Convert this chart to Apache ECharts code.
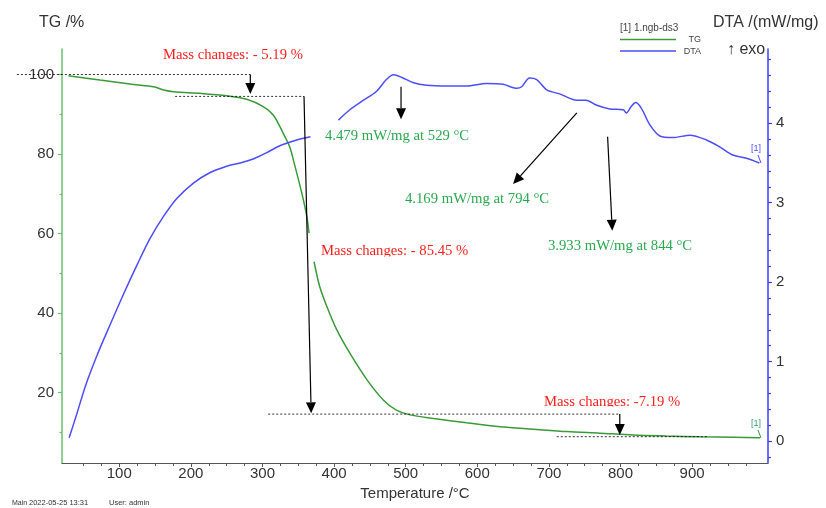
<!DOCTYPE html>
<html>
<head>
<meta charset="utf-8">
<script src="https://cdn.jsdelivr.net/npm/echarts@6/dist/echarts.min.js"></script>
<style>
  html, body { margin: 0; padding: 0; background: #fff; }
  #main { width: 826px; height: 508px; }
</style>
</head>
<body>
<div id="main"></div>
<script>
// TG trace: temperature (°C) and remaining mass (%), '-' = break in the trace
var tgTemp = [29, 73, 120, 148, 162, 176, 213, 250, 278, 301, 315, 329, 338, 345, 355, 362, 365,
  368,
  372, 380, 390, 404, 422, 446, 469, 487, 506, 539, 585, 632, 678, 725, 771, 818, 864, 911, 958, 995];
var tgMass = [99.7, 98.6, 97.5, 96.9, 96.1, 95.65, 95.25, 94.65, 93.75, 91.9, 89.8, 85.2, 81.8, 77.2, 70.1, 64.2, 60.1,
  '-',
  52.9, 46.6, 41.6, 35.7, 29.9, 23.2, 18.1, 15.6, 14.4, 13.5, 12.4, 11.4, 10.8, 10.2, 9.8, 9.35, 9.1, 8.9, 8.75, 8.65];

// DTA trace: temperature (°C) and signal (mW/mg)
var dtaTemp = [30, 41, 53, 69, 87, 106, 125, 143, 162, 180, 204, 227, 250, 269, 287, 306, 325, 348, 367,
  385,
  406, 422, 441, 459, 473, 483, 494, 511, 529, 557, 585, 613, 636, 655, 662, 673, 683, 697, 715, 739, 752,
  766, 785, 804, 808, 815, 821, 829, 841, 855, 873, 897, 920, 939, 957, 976, 994];
var dtaSignal = [0.04, 0.35, 0.70, 1.08, 1.46, 1.85, 2.22, 2.55, 2.83, 3.05, 3.25, 3.38, 3.46, 3.50, 3.55, 3.63, 3.72, 3.79, 3.83,
  '-',
  4.04, 4.17, 4.29, 4.40, 4.55, 4.61, 4.58, 4.51, 4.48, 4.47, 4.47, 4.50, 4.49, 4.44, 4.46, 4.57, 4.55, 4.42, 4.37, 4.29, 4.29,
  4.23, 4.18, 4.17, 4.13, 4.21, 4.26, 4.19, 3.98, 3.84, 3.82, 3.85, 3.79, 3.70, 3.60, 3.56, 3.50];

// axis ticks
var tempTicks = [100, 200, 300, 400, 500, 600, 700, 800, 900];
var tempMinor = [50, 75, 125, 150, 175, 225, 250, 275, 325, 350, 375, 425, 450, 475, 525, 550, 575,
  625, 650, 675, 725, 750, 775, 825, 850, 875, 925, 950, 975];
var tgTicks = [20, 40, 60, 80, 100];
var tgMinor = [10, 30, 50, 70, 90];
var dtaTicks = [0, 1, 2, 3, 4];
var dtaMinor = [-0.2, 0.2, 0.4, 0.6, 0.8, 1.2, 1.4, 1.6, 1.8, 2.2, 2.4, 2.6, 2.8, 3.2, 3.4, 3.6, 3.8, 4.2, 4.4, 4.6, 4.8];

// annotation geometry in data space: [temperature, value]
var tgDotted = [[[-43, 100], [283, 100]], [[178, 94.5], [358, 94.5]], [[308, 14.6], [798, 14.6]], [[711, 8.9], [921, 8.9]]];
var tgArrows = [[[283, 100], [283, 95.1]], [[358, 94.5], [368, 14.8]], [[799, 14.6], [799, 9.35]]];
var dtaArrows = [[[493.5, 4.46], [493.5, 4.05]], [[739, 4.13], [650, 3.235]], [[782, 3.83], [788.5, 2.647]]];

var sans = 'Liberation Sans, Arial, sans-serif';
var serif = 'Liberation Serif, Times New Roman, serif';
var TG_COLOR = '#3a9a3a';
var DTA_COLOR = '#4d4dff';

function pairs(xs, ys) {
  return xs.map(function (x, i) { return [x, ys[i]]; });
}

var myChart = echarts.init(document.getElementById('main'));

function sideAxis(pos, min, max, color, ticks, len, labels) {
  return {
    type: 'value', position: pos, min: min, max: max,
    axisLine: { show: !!labels, onZero: false, lineStyle: { color: color, width: 1.5 } },
    axisTick: { show: true, customValues: ticks, length: len, lineStyle: { color: color, width: 1.2 } },
    axisLabel: labels ? { customValues: ticks, fontSize: 15, color: '#333', margin: 8, fontFamily: sans } : { show: false },
    splitLine: { show: false }
  };
}

myChart.setOption({
  animation: false,
  backgroundColor: '#fff',
  grid: { left: 62, right: 58, top: 49, bottom: 45 },
  xAxis: [{
    type: 'value', min: 20, max: 1006, position: 'bottom',
    name: 'Temperature /°C', nameLocation: 'middle', nameGap: 22,
    nameTextStyle: { fontFamily: sans, fontSize: 15, color: '#333' },
    axisLine: { onZero: false, lineStyle: { color: '#555', width: 1.2 } },
    axisTick: { customValues: tempTicks, length: 4, lineStyle: { color: '#555' } },
    axisLabel: { customValues: tempTicks, fontSize: 15, color: '#333', margin: 3, fontFamily: sans },
    splitLine: { show: false }
  }, {
    type: 'value', min: 20, max: 1006, position: 'bottom',
    axisLine: { show: false, onZero: false },
    axisTick: { customValues: tempMinor, length: 3, lineStyle: { color: '#555' } },
    axisLabel: { show: false },
    splitLine: { show: false }
  }],
  yAxis: [
    sideAxis('left', 2.3, 106.4, '#6cbf6c', tgTicks, 4, true),
    sideAxis('left', 2.3, 106.4, '#6cbf6c', tgMinor, 2.5, false),
    sideAxis('right', -0.277, 4.935, '#3c3cff', dtaTicks, 4, true),
    sideAxis('right', -0.277, 4.935, '#3c3cff', dtaMinor, 3, false)
  ],
  series: [{
    name: 'TG', type: 'line', xAxisIndex: 0, yAxisIndex: 0,
    data: pairs(tgTemp, tgMass), showSymbol: false, symbol: 'none', smooth: 0.3,
    connectNulls: false, lineStyle: { color: TG_COLOR, width: 1.5 }
  }, {
    name: 'DTA', type: 'line', xAxisIndex: 0, yAxisIndex: 2,
    data: pairs(dtaTemp, dtaSignal), showSymbol: false, symbol: 'none', smooth: 0.3,
    connectNulls: false, lineStyle: { color: DTA_COLOR, width: 1.5 }
  }]
});

// annotations drawn on top, placed through the series' own scales
var g = [];
function px(seriesIndex, p) { return myChart.convertToPixel({ seriesIndex: seriesIndex }, p); }
function dotted(a, b) {
  g.push({ type: 'line', z: 50, shape: { x1: a[0], y1: a[1], x2: b[0], y2: b[1] },
    style: { stroke: '#000', lineWidth: 0.8, lineDash: [2, 2] } });
}
function arrow(a, b) {
  var dx = b[0] - a[0], dy = b[1] - a[1], l = Math.sqrt(dx * dx + dy * dy);
  var ux = dx / l, uy = dy / l, hl = 11, hw = 5;
  var bx = b[0] - ux * hl, by = b[1] - uy * hl;
  g.push({ type: 'line', z: 50, shape: { x1: a[0], y1: a[1], x2: bx, y2: by },
    style: { stroke: '#000', lineWidth: 1.2 } });
  g.push({ type: 'polygon', z: 50, shape: { points: [[b[0], b[1]], [bx - uy * hw, by + ux * hw], [bx + uy * hw, by - ux * hw]] },
    style: { fill: '#000' } });
}
function text(str, x, y, size, color, family, align) {
  g.push({ type: 'text', z: 60, x: x, y: y,
    style: { text: str, fontSize: size, fontFamily: family, fill: color, textAlign: align || 'left', textVerticalAlign: 'middle' } });
}
// the exported picture cuts the red labels off just under their baseline
function cut(x, y, w, h) {
  g.push({ type: 'rect', z: 70, shape: { x: x, y: y, width: w, height: h }, style: { fill: '#fff' } });
}

tgDotted.forEach(function (s) { dotted(px(0, s[0]), px(0, s[1])); });
tgArrows.forEach(function (s) { arrow(px(0, s[0]), px(0, s[1])); });
dtaArrows.forEach(function (s) { arrow(px(1, s[0]), px(1, s[1])); });

var red = '#ff1f1f', green = '#2aa84f';
text('Mass changes: - 5.19 %', 163, 55, 14.7, red, serif);
text('4.479 mW/mg at 529 °C', 325, 136.5, 14.7, green, serif);
text('4.169 mW/mg at 794 °C', 405, 199.5, 14.7, green, serif);
text('3.933 mW/mg at 844 °C', 548, 246, 14.7, green, serif);
text('Mass changes: - 85.45 %', 321, 251.5, 14.7, red, serif);
text('Mass changes: -7.19 %', 544, 402.5, 14.7, red, serif);
cut(160, 59.5, 150, 5);
cut(318, 256.5, 152, 4);
cut(540, 406.5, 146, 4.5);

// axis titles
text('TG /%', 39, 23, 16, '#333', sans);
text('DTA /(mW/mg)', 713, 23, 16, '#333', sans);
text('↑ exo', 727, 50, 16, '#333', sans);

// legend
text('[1] 1.ngb-ds3', 620, 28, 10, '#444', sans);
g.push({ type: 'line', shape: { x1: 620, y1: 39.5, x2: 676, y2: 39.5 }, style: { stroke: TG_COLOR, lineWidth: 1.3 } });
g.push({ type: 'line', shape: { x1: 620, y1: 51, x2: 676, y2: 51 }, style: { stroke: DTA_COLOR, lineWidth: 1.3 } });
text('TG', 701, 40, 9, '#444', sans, 'right');
text('DTA', 701, 51.5, 9, '#444', sans, 'right');

// curve tags
text('[1]', 756, 149, 9, DTA_COLOR, sans, 'center');
g.push({ type: 'line', shape: { x1: 758, y1: 155, x2: 761, y2: 163 }, style: { stroke: DTA_COLOR, lineWidth: 1 } });
text('[1]', 756, 424, 9, '#3aa07a', sans, 'center');
g.push({ type: 'line', shape: { x1: 758, y1: 430, x2: 761, y2: 438 }, style: { stroke: TG_COLOR, lineWidth: 1 } });

// footer
text('Main', 12, 503, 7, '#333', sans);
text('2022-05-25 13:31', 29, 503, 7.5, '#333', sans);
text('User: admin', 109, 503, 7.5, '#333', sans);

myChart.setOption({ graphic: { elements: g } });
</script>
</body>
</html>
